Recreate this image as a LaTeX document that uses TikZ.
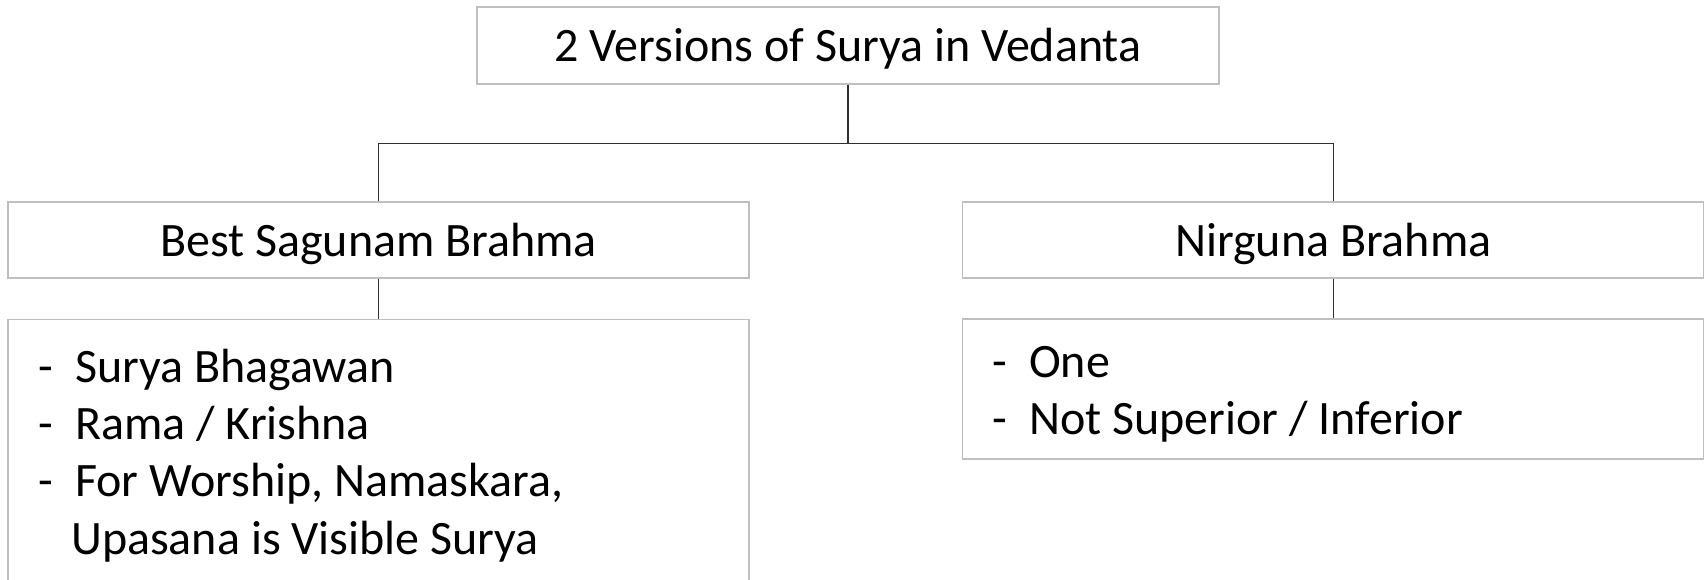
\documentclass[tikz,border=0pt]{standalone}
\usepackage{fontspec}
\setmainfont{Carlito}
\begin{document}
\begin{tikzpicture}[x=1pt,y=-1pt,
  boxstyle/.style={draw=boxgray,line width=1.2pt,fill=white,inner sep=0pt},
  conn/.style={draw=conngray,line width=1.4pt},
  txt/.style={inner sep=0pt,font=\fontsize{48}{57}\selectfont,text=black},
]
\definecolor{boxgray}{HTML}{BFBFBF}
\definecolor{conngray}{HTML}{303030}
\useasboundingbox (0,0) rectangle (1707,579);
\clip (0,0) rectangle (1707,579);
% boxes
\node[boxstyle,minimum width=742pt,minimum height=77pt] (top) at (848,45.5) {};
\node[boxstyle,minimum width=741pt,minimum height=76pt] (best) at (378.5,240) {};
\node[boxstyle,minimum width=741pt,minimum height=76pt] (nir) at (1333.3,240) {};
\node[boxstyle,minimum width=741pt,minimum height=290pt,anchor=north] (bl) at (378.5,319) {};
\node[boxstyle,minimum width=741pt,minimum height=140pt] (br) at (1333.3,389) {};
% connectors
\coordinate (bar) at (848,143.3);
\draw[conn] (top.south) -- (bar);
\draw[conn] (best.north) |- (bar) -| (nir.north);
\draw[conn] (best.south) -- (bl.north);
\draw[conn] (nir.south) -- (br.north);
% texts
\node[txt,anchor=base] (ttop) at (848,61.7) {2 Versions of Surya in Vedanta};
\node[txt,anchor=base] (tbest) at (378.5,256.7) {Best Sagunam Brahma};
\node[txt,anchor=base] (tnir) at (1333.3,256.7) {Nirguna Brahma};
\node[txt,anchor=base west] (d1) at (38.5,382) {-};
\node[txt,anchor=base west] (l1) at (75,382) {Surya Bhagawan};
\node[txt,anchor=base west] (d2) at (38.5,439.3) {-};
\node[txt,anchor=base west] (l2) at (75,439.3) {Rama / Krishna};
\node[txt,anchor=base west] (d3) at (38.5,496.7) {-};
\node[txt,anchor=base west] (l3) at (75,496.7) {For Worship, Namaskara,};
\node[txt,anchor=base west] (l4) at (71,554) {Upasana is Visible Surya};
\node[txt,anchor=base west] (d5) at (992,377) {-};
\node[txt,anchor=base west] (r1) at (1029,377) {One};
\node[txt,anchor=base west] (d6) at (992,434) {-};
\node[txt,anchor=base west] (r2) at (1029,434) {Not Superior / Inferior};
\end{tikzpicture}
\end{document}
